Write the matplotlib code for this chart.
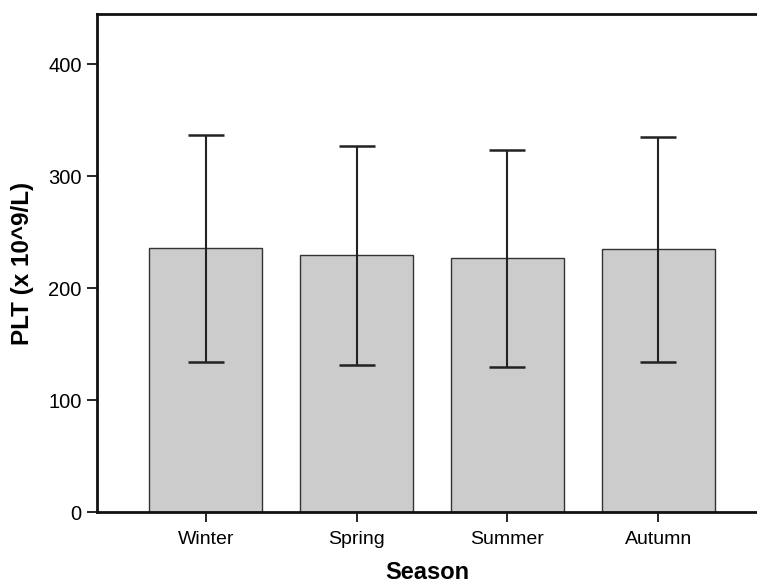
import matplotlib
matplotlib.use("Agg")
import matplotlib.pyplot as plt

plt.rcParams['font.family'] = ['Liberation Sans', 'DejaVu Sans']

seasons = ['Winter', 'Spring', 'Summer', 'Autumn']
means = [235.7, 229.7, 227.0, 234.8]
err_upper = [336.9, 327.0, 323.8, 335.4]
err_lower = [134.2, 131.5, 130.0, 134.2]

yerr = [[m - lo for m, lo in zip(means, err_lower)],
        [hi - m for m, hi in zip(means, err_upper)]]

fig = plt.figure(figsize=(7.57, 5.84), dpi=100)
ax = fig.add_axes([97 / 757, 1 - 512 / 584, 1 - 97 / 757, (512 - 14) / 584])

x = list(range(len(seasons)))
ax.bar(x, means, width=0.75, color='#cccccc', edgecolor='#333333', linewidth=1.0, zorder=2)
ax.errorbar(x, means, yerr=yerr, fmt='none', ecolor='#222222', elinewidth=1.5,
            capsize=13, capthick=1.8, zorder=3)

ax.set_xlim(-0.723, 3.656)
ax.set_ylim(0, 445)
ax.set_xticks(x)
ax.set_xticklabels(seasons, fontsize=14)
ax.set_yticks([0, 100, 200, 300, 400])
ax.tick_params(axis='y', labelsize=14.5, length=7, width=1.2, pad=4)
ax.tick_params(axis='x', length=7, width=1.2, pad=7)

for side in ['left', 'bottom', 'top']:
    ax.spines[side].set_linewidth(2)
    ax.spines[side].set_color('#111111')
ax.spines['right'].set_visible(False)

ax.set_ylabel('PLT (x 10^9/L)', fontsize=17.5, fontweight='bold', labelpad=10)
ax.set_xlabel('Season', fontsize=17, fontweight='bold', labelpad=9)

fig.savefig('out.png', dpi=100)
